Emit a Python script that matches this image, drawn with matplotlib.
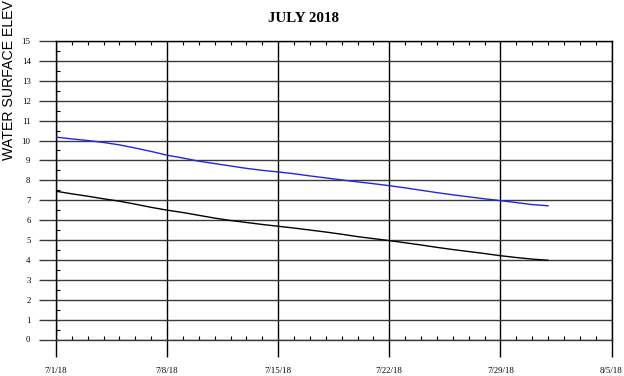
#!/usr/bin/env python3
# -*- coding: utf-8 -*-
"""
Water surface elevation, July 2018 - two gauges, daily values.
Saves out.png (624x376).
"""

import numpy as np
import pandas as pd
import matplotlib
matplotlib.use("Agg")
import matplotlib.pyplot as plt
import matplotlib.dates as mdates
from matplotlib.ticker import FixedLocator, MultipleLocator, FuncFormatter

# ----------- DATA -----------
days = pd.date_range("2018-07-01", "2018-08-01", freq="D")

upper_elev = [10.17, 10.08, 10.00, 9.90, 9.78, 9.62, 9.45, 9.26,
              9.12, 8.96, 8.84, 8.72, 8.60, 8.50, 8.42, 8.33,
              8.22, 8.12, 8.02, 7.92, 7.83, 7.73, 7.62, 7.50,
              7.38, 7.27, 7.17, 7.07, 6.98, 6.88, 6.78, 6.72]

lower_elev = [7.45, 7.32, 7.20, 7.07, 6.95, 6.80, 6.64, 6.50,
              6.38, 6.24, 6.10, 5.98, 5.88, 5.78, 5.69, 5.60,
              5.50, 5.40, 5.29, 5.17, 5.07, 4.97, 4.86, 4.75,
              4.63, 4.52, 4.42, 4.32, 4.21, 4.12, 4.04, 3.98]

week_ticks = pd.to_datetime(["2018-07-01", "2018-07-08", "2018-07-15",
                             "2018-07-22", "2018-07-29", "2018-08-05"])

title = "JULY 2018"
ylabel = "WATER SURFACE ELEV"   # the reference shows only this much of the label

# ----------- FIGURE -----------
W, H = 624, 376
fig = plt.figure(figsize=(W / 100, H / 100), dpi=100)
ax = fig.add_axes([56 / W, 1 - 339.5 / H, (611.5 - 56) / W, (339.5 - 41) / H])

serif = ["Liberation Serif", "DejaVu Serif"]
grid_grey = "#3a3a3a"

ax.plot(days, upper_elev, color="#2424e6", lw=1.0, zorder=3)
ax.plot(days, lower_elev, color="black", lw=1.0, zorder=3)

ax.set_xlim(week_ticks[0], week_ticks[-1])
ax.set_ylim(0, 15)

# x axis: weekly majors (lines poke below the frame), daily minors
ax.xaxis.set_major_locator(FixedLocator(mdates.date2num(week_ticks)))
ax.xaxis.set_major_formatter(FuncFormatter(
    lambda v, pos: (lambda d: f"{d.month}/{d.day}/{d:%y}")(mdates.num2date(v))))
ax.xaxis.set_minor_locator(mdates.DayLocator())

# y axis: unit majors (grid runs out past the frame), half-unit minors
ax.yaxis.set_major_locator(MultipleLocator(1))
ax.yaxis.set_minor_locator(FixedLocator(np.arange(0.5, 15, 1)))

ax.tick_params(axis="x", which="major", direction="out", length=12, width=1.0,
               color="black", pad=7.5, labelsize=6.3, top=False)
ax.tick_params(axis="x", which="minor", direction="in", length=2.9, width=0.8,
               color="black", bottom=True, top=True)
ax.tick_params(axis="y", which="major", direction="out", length=12.3, width=1.0,
               color=grid_grey, pad=6, labelsize=6.3)
ax.tick_params(axis="y", which="minor", direction="in", length=2.9, width=0.8,
               color="black", left=True, right=False)
for lab in ax.get_xticklabels() + ax.get_yticklabels():
    lab.set_family(serif)

ax.grid(axis="y", which="major", color=grid_grey, lw=1.0, zorder=1)
ax.grid(axis="x", which="major", color="black", lw=1.0, zorder=1)

for side in ("left", "right", "top"):
    ax.spines[side].set_color("black")
    ax.spines[side].set_linewidth(1.0)
ax.spines["bottom"].set_color(grid_grey)
ax.spines["bottom"].set_linewidth(1.0)

fig.text(303 / W, 1 - 19 / H, title, ha="center", va="center",
         fontsize=10.8, fontweight="bold", family=serif)
fig.text(9.5 / W, 1 - 160 / H, ylabel, rotation=90, ha="center", va="bottom",
         fontsize=10.2, family=["Liberation Sans", "DejaVu Sans"])

fig.savefig("out.png", dpi=100)
